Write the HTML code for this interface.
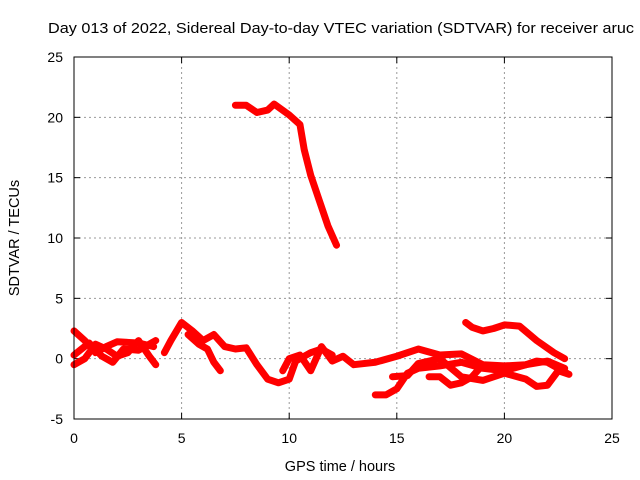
<!DOCTYPE html>
<html><head><meta charset="utf-8"><style>
body{margin:0;background:#fff}
svg{display:block;font-family:"Liberation Sans",sans-serif}
</style></head><body>
<svg id="chart" width="640" height="480">
<text x="48" y="33" font-size="15" textLength="586" lengthAdjust="spacingAndGlyphs">Day 013 of 2022, Sidereal Day-to-day VTEC variation (SDTVAR) for receiver aruc</text>
<text x="340" y="471" text-anchor="middle" font-size="14.5">GPS time / hours</text>
<text x="19" y="238" text-anchor="middle" font-size="14.5" transform="rotate(-90 19 238)">SDTVAR / TECUs</text>
<g id="grid"></g><g id="series"></g>
<rect x="74" y="57" width="538" height="362" fill="none" stroke="#000"/>
</svg>
<script>
const xTicks=[0,5,10,15,20,25];
const yTicks=[-5,0,5,10,15,20,25];
const seriesA=[[7.5,21],[8,21],[8.5,20.4],[9,20.6],[9.3,21.1],[10,20.2],[10.5,19.4],[10.7,17.3],[11,15.2],[11.4,13.1],[11.8,11],[12.2,9.4]];
const seriesB1=[[0,2.3],[0.5,1.5],[1,0.5],[1.5,1],[2,1.4],[3,1.3],[3.7,1.0]];
const seriesB2=[[0,-0.5],[0.5,0],[1,1.2],[1.5,0.8],[2,0.2],[2.5,0.5],[3,1.5],[3.5,0.2],[3.8,-0.5]];
const seriesB3=[[0,0.3],[0.7,1.3],[1.3,0.2],[1.8,-0.3],[2.3,0.8],[3,0.7],[3.8,1.5]];
const seriesC=[[4.2,0.5],[4.5,1.5],[5,3],[5.5,2.3],[6,1.5],[6.5,2],[7,1],[7.5,0.8],[8,0.9],[8.5,-0.5],[9,-1.7],[9.5,-2],[10,-1.7],[10.3,-0.2],[11,0.5],[11.5,0.8],[12,0.3]];
const seriesC2=[[5.3,2],[5.8,1.2],[6.2,0.8],[6.5,-0.3],[6.8,-1]];
const seriesD=[[9.7,-1],[10,0],[10.5,0.3],[11,-1],[11.5,1],[12,-0.2],[12.5,0.2],[13,-0.5],[14,-0.3],[15,0.2],[16,0.8],[17,0.3],[18,0.4],[19,-0.5],[20,-0.6],[21,-0.5],[22,-0.2],[22.8,-0.8]];
const seriesE=[[14,-3],[14.5,-3],[15,-2.5],[15.5,-1.2],[16,-0.8],[17,-0.6],[18,-0.3],[19,-0.8],[20,-1],[21,-0.5],[21.5,-0.2],[22,-0.3],[22.9,-1.2]];
const seriesF=[[14.8,-1.5],[15.5,-1.4],[16,-0.4],[17,0],[18,-1.5],[19,-1.8],[20,-1.2],[21,-1.7],[21.5,-2.3],[22,-2.2],[22.5,-1],[23,-1.3]];
const seriesG=[[18.2,3],[18.5,2.6],[19,2.3],[19.5,2.5],[20,2.8],[20.7,2.7],[21.5,1.5],[22.3,0.5],[22.8,0]];
const seriesH=[[16.5,-1.5],[17,-1.5],[17.5,-2.2],[18,-2],[18.5,-1.5],[19,-0.5]];
const allSeries=[seriesA,seriesB1,seriesB2,seriesB3,seriesC,seriesC2,seriesD,seriesE,seriesF,seriesG,seriesH];
const NS="http://www.w3.org/2000/svg";
const X=v=>74+v*538/25, Y=v=>419-(v+5)*362/30;
const grid=document.getElementById('grid'), sg=document.getElementById('series');
function mk(t,a,p){const e=document.createElementNS(NS,t);for(const k in a)e.setAttribute(k,a[k]);p.appendChild(e);return e;}
xTicks.forEach(v=>{
 if(v>0&&v<25){const l=mk('line',{x1:X(v),x2:X(v),y1:57,y2:419,stroke:'#999','stroke-dasharray':'2,3'},grid);
 
 }
 mk('line',{x1:X(v),x2:X(v),y1:419,y2:413,stroke:'#000'},grid);
 mk('line',{x1:X(v),x2:X(v),y1:57,y2:63,stroke:'#000'},grid);
 const t=mk('text',{x:X(v),y:443,'text-anchor':'middle','font-size':14},grid);t.textContent=v;
 
 
});
yTicks.forEach(v=>{
 if(v>-5&&v<25){const l=mk('line',{x1:74,x2:612,y1:Y(v),y2:Y(v),stroke:'#999','stroke-dasharray':'2,3'},grid);
 
 }
 mk('line',{x1:74,x2:80,y1:Y(v),y2:Y(v),stroke:'#000'},grid);
 mk('line',{x1:612,x2:606,y1:Y(v),y2:Y(v),stroke:'#000'},grid);
 const t=mk('text',{x:63,y:Y(v)+5,'text-anchor':'end','font-size':14},grid);t.textContent=v;
 
 
});
allSeries.forEach(s=>{
 const p=mk('polyline',{points:s.map(d=>X(d[0])+','+Y(d[1])).join(' '),fill:'none',stroke:'#f00','stroke-width':7,'stroke-linejoin':'round','stroke-linecap':'round'},sg);
 
 
});
</script>
</body></html>
